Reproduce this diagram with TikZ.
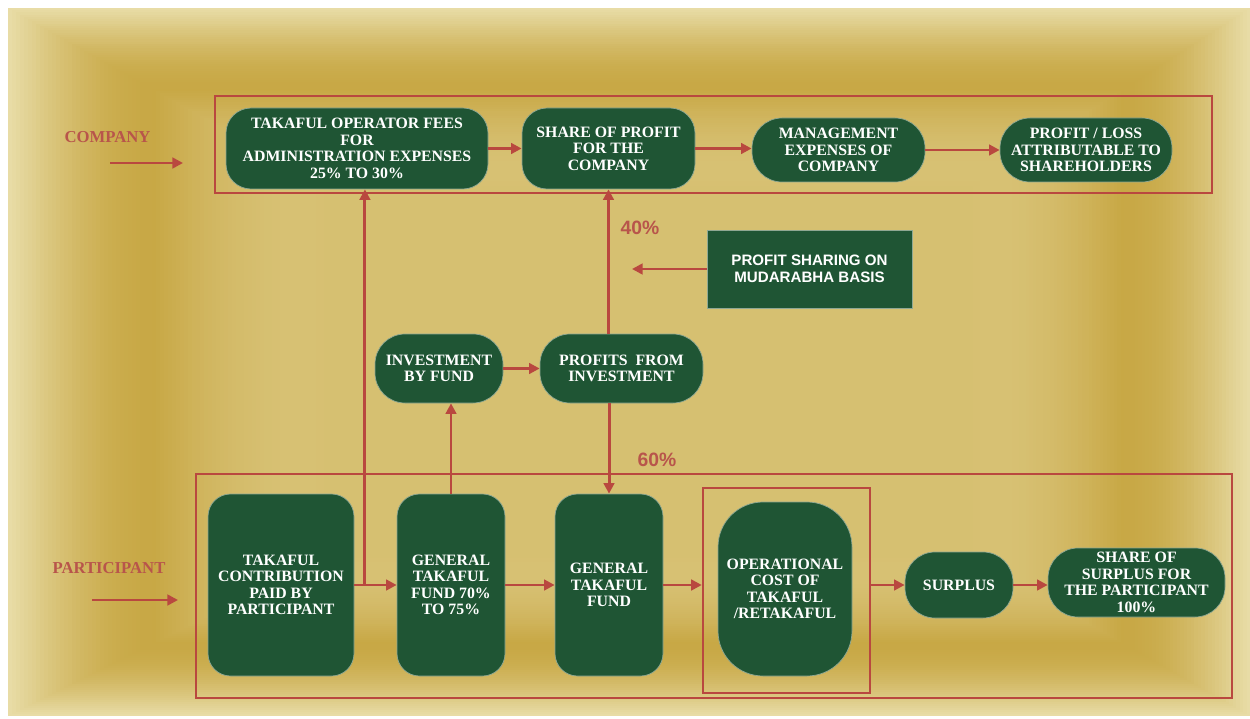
\documentclass[tikz,border=0pt]{standalone}
\usepackage{fontspec}
\setmainfont{Liberation Serif}
\setsansfont{Liberation Sans}
\usetikzlibrary{arrows.meta,positioning,calc}

\definecolor{bglight}{HTML}{E8DCA6}
\definecolor{bgdark}{HTML}{C6A540}
\definecolor{boxgreen}{HTML}{1F5534}
\definecolor{boxedge}{HTML}{8FA893}
\definecolor{arrowred}{HTML}{B9483F}
\definecolor{labelred}{HTML}{B8554B}

\newcommand{\boxfont}{\fontsize{9}{9.4}\selectfont\bfseries}
\newcommand{\sidefont}{\fontsize{9.5}{10}\selectfont\bfseries}

\begin{document}
\begin{tikzpicture}[on grid,node distance=3cm,
every node/.style={inner sep=1pt},
greenbox/.style={draw=boxedge,thin,fill=boxgreen,text=white,align=center,font=\boxfont},
pill/.style={greenbox,rounded corners=0.6cm},
widebox/.style={greenbox,rounded corners=0.5cm},
tallbox/.style={greenbox,rounded corners=0.45cm,minimum width=2.16cm,minimum height=3.64cm},
frame/.style={draw=arrowred,line width=1.4pt,minimum width=#1},
sidelabel/.style={text=labelred,font=\sidefont},
pct/.style={text=labelred,font=\sffamily\bfseries\fontsize{11}{11}\selectfont}]

\tikzset{fleche/.style={-{Triangle[length=6pt,width=6pt]},arrowred,line width=1.7pt}}

\useasboundingbox (0,0) rectangle (25,-14.38);
\fill[white] (0,0) rectangle (25,-14.38);
% framed gold background
\foreach \i in {0,...,80}{
  \pgfmathtruncatemacro\p{\i<=36 ? 95*sin(2.5*\i) : 95-45*sin(2.5*(\i-36))}
  \fill[bgdark!\p!bglight] (0.16+\i*0.08,-0.16-\i*0.045) rectangle (25-\i*0.07,-14.32+\i*0.04);
}

\node[frame=19.94cm,minimum height=1.94cm] (compframe) at (14.27,-2.89) {};
\node[frame=20.72cm,minimum height=4.48cm] (partframe) at (14.28,-11.72) {};
\node[frame=3.34cm,minimum height=4.10cm] (opframe) at (15.73,-11.81) {};

\node[sidelabel] (company) at (2.15,-2.74) {COMPANY};
\node[sidelabel] (participant) at (2.18,-11.36) {PARTICIPANT};
\coordinate (compin) at (2.2,-3.26);
\coordinate (compend) at (3.66,-3.26);
\coordinate (partin) at (1.84,-12.0);
\coordinate (partend) at (3.56,-12.0);

% company row
\node[widebox,minimum width=5.24cm,minimum height=1.62cm] (fees) at (7.14,-2.97)
  {TAKAFUL OPERATOR FEES\\FOR\\ADMINISTRATION EXPENSES\\25\% TO 30\%};
\node[widebox,minimum width=3.46cm,minimum height=1.62cm] (shareprofit) [right=5.03cm of fees]
  {SHARE OF PROFIT\\FOR THE\\COMPANY};
\node[pill,minimum width=3.46cm,minimum height=1.28cm] (mgmt) [right=4.6cm of shareprofit,yshift=-0.03cm]
  {MANAGEMENT\\EXPENSES OF\\COMPANY};
\node[pill,minimum width=3.44cm,minimum height=1.28cm] (shareholders) [right=4.95cm of mgmt]
  {PROFIT / LOSS\\ATTRIBUTABLE TO\\SHAREHOLDERS};

% middle
\node[greenbox,font=\sffamily\bfseries\fontsize{8.6}{10}\selectfont,minimum width=4.1cm,minimum height=1.56cm] (mudaraba) at (16.19,-5.38)
  {PROFIT SHARING ON\\MUDARABHA BASIS};
\coordinate (mudtip) at (12.64,-5.38);
\node[pill,minimum width=2.56cm,minimum height=1.38cm] (invest) at (8.78,-7.37)
  {INVESTMENT\\BY FUND};
\node[pill,minimum width=3.26cm,minimum height=1.38cm] (profits) [right=3.65cm of invest]
  {PROFITS~~FROM\\INVESTMENT};
\node[pct] (forty) at (12.8,-4.56) {40\%};
\node[pct] (sixty) at (13.14,-9.2) {60\%};

% participant row
\node[tallbox,minimum width=2.92cm] (contrib) at (5.62,-11.70)
  {TAKAFUL\\CONTRIBUTION\\PAID BY\\PARTICIPANT};
\node[tallbox] (fund70) [right=3.4cm of contrib]
  {GENERAL\\TAKAFUL\\FUND 70\%\\TO 75\%};
\node[tallbox] (fund) [right=3.16cm of fund70]
  {GENERAL\\TAKAFUL\\FUND};
\node[greenbox,rounded corners=0.9cm,minimum width=2.68cm,minimum height=3.48cm] (opcost) at (15.70,-11.78)
  {OPERATIONAL\\COST OF\\TAKAFUL\\/RETAKAFUL};
\node[pill,minimum width=2.16cm,minimum height=1.32cm] (surplus) at (19.18,-11.70) {SURPLUS};
\node[pill,minimum width=3.54cm,minimum height=1.38cm] (sharesurplus) at (22.73,-11.65)
  {SHARE OF\\SURPLUS FOR\\THE PARTICIPANT\\100\%};

\coordinate (split) at ($(contrib.east)!0.25!(fund70.west)$);

\draw[fleche] (compin) -- (compend);
\draw[fleche] (partin) -- (partend);
\draw[fleche] (fees.east) -- (shareprofit.west);
\draw[fleche] (shareprofit.east) -- (mgmt.west |- shareprofit.east);
\draw[fleche] (mgmt.east) -- (shareholders.west);
\draw[fleche] (mudaraba.west) -- (mudtip);
\draw[fleche] (profits.north -| shareprofit.south) -- (shareprofit.south);
\draw[fleche] (profits.south -| fund.north) -- (fund.north);
\draw[fleche] (invest.east) -- (profits.west);
\draw[fleche] (fund70.north) -- (fund70.north |- invest.south);
\draw[fleche] (contrib.east) -- (fund70.west);
\draw[fleche] (split) -- (split |- fees.south);
\draw[fleche] (fund70.east) -- (fund.west);
\draw[fleche] (fund.east) -- (opframe.west |- fund.east);
\draw[fleche] (opframe.east |- surplus.west) -- (surplus.west);
\draw[fleche] (surplus.east) -- (sharesurplus.west |- surplus.east);
\end{tikzpicture}
\end{document}
